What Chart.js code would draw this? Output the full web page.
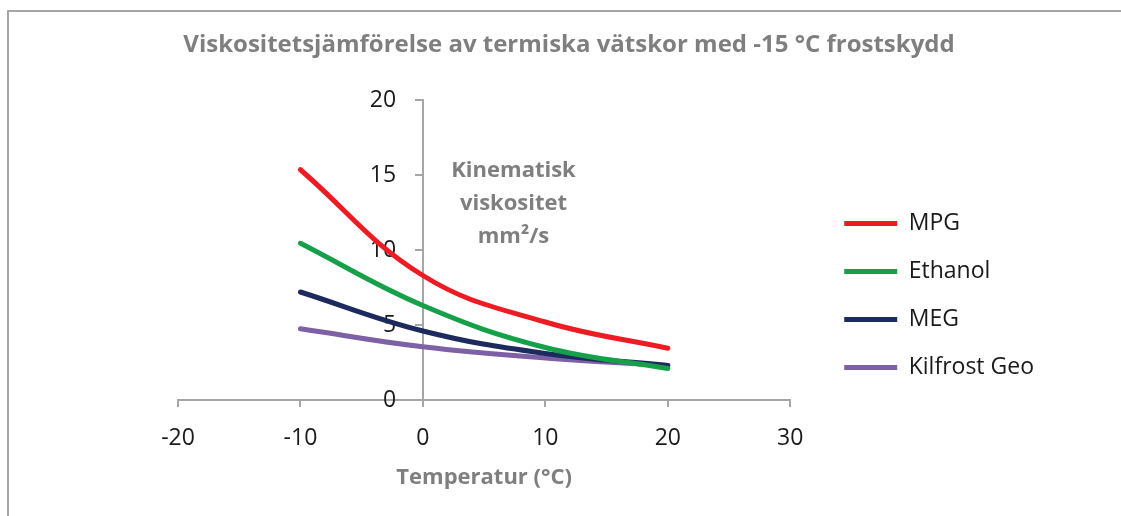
<!DOCTYPE html>
<html>
<head>
<meta charset="utf-8">
<script src="https://cdn.jsdelivr.net/npm/chart.js@4"></script>
<style>
  html, body { margin: 0; padding: 0; background: #fff; }
  #wrap { position: relative; width: 1121px; height: 516px; }
  #frame { position: absolute; left: 7px; top: 10px; width: 1114px; height: 506px;
           border-top: 2px solid #a6a6a6; border-left: 2px solid #a6a6a6; box-sizing: border-box; }
  canvas { position: absolute; left: 0; top: 0; }
</style>
</head>
<body>
<div id="wrap">
  <div id="frame"></div>
  <canvas id="viscChart" width="1121" height="516"></canvas>
</div>
<script>
// temperatur (°C)
const temps = [-10, 0, 10, 20];

// kinematisk viskositet mm2/s
const mpg = [15.35, 8.3, 5.2, 3.45];
const ethanol = [10.45, 6.3, 3.5, 2.1];
const meg = [7.2, 4.6, 3.1, 2.3];
const kilfrost = [4.75, 3.55, 2.8, 2.3];

const seriesNames = ['MPG', 'Ethanol', 'MEG', 'Kilfrost Geo'];
const seriesColors = ['#ed1c24', '#17a04a', '#1d2a5e', '#7d60a5'];
const seriesValues = [mpg, ethanol, meg, kilfrost];

const xTicks = [-20, -10, 0, 10, 20, 30];
const yTicks = [0, 5, 10, 15, 20];

const chartTitle = 'Viskositetsjämförelse av termiska vätskor med -15 °C frostskydd';

const fontName = '"Open Sans", Lato, sans-serif';
const greyText = '#7f7f7f';
const darkText = '#1a1a1a';

//rubriken + texten "Kinematisk viskositet mm²/s" inne i diagrammet
const extraText = {
  id: 'extraText',
  afterDraw(chart) {
    const ctx = chart.ctx;
    const xs = chart.scales.x;
    const ys = chart.scales.y;
    ctx.save();
    ctx.fillStyle = greyText;
    ctx.textAlign = 'center';
    ctx.textBaseline = 'middle';
    // rubriken ligger mitt på hela ramen, inte över diagramytan
    ctx.font = 'bold 24px ' + fontName;
    ctx.fillText(chartTitle, 569, 45);
    ctx.font = 'bold 22px ' + fontName;
    const lines = [['Kinematisk', 15.3], ['viskositet', 13.1], ['mm²/s', 10.9]];
    lines.forEach(([txt, v]) => {
      ctx.fillText(txt, xs.getPixelForValue(7.4), ys.getPixelForValue(v));
    });
    ctx.restore();
  }
};

const ctx = document.getElementById('viscChart');

new Chart(ctx, {
  type: 'line',
  data: {
    datasets: seriesNames.map((name, i) => ({
      label: name,
      data: temps.map((t, j) => ({ x: t, y: seriesValues[i][j] })),
      borderColor: seriesColors[i],
      backgroundColor: seriesColors[i],
      borderWidth: 5,
      borderCapStyle: 'round',
      pointRadius: 0,
      tension: 0.4,
      fill: false
    }))
  },
  options: {
    responsive: false,
    animation: false,
    layout: {
      padding: { left: 178, right: 77, top: 100, bottom: 25 }
    },
    scales: {
      x: {
        type: 'linear',
        min: -20,
        max: 30,
        afterBuildTicks: (s) => { s.ticks = xTicks.map(v => ({ value: v })); },
        grid: { drawOnChartArea: false, tickLength: 7, color: '#a6a6a6', lineWidth: 2 },
        border: { color: '#a6a6a6', width: 2 },
        ticks: { color: darkText, font: { family: fontName, size: 23 }, padding: 18 },
        title: {
          display: true,
          text: 'Temperatur (°C)',
          color: greyText,
          font: { family: fontName, size: 22, weight: 'bold' },
          padding: { top: -6, bottom: 0 }
        }
      },
      y: {
        type: 'linear',
        position: { x: 0 },
        min: 0,
        max: 20,
        afterBuildTicks: (s) => { s.ticks = yTicks.map(v => ({ value: v })); },
        grid: { drawOnChartArea: false, tickLength: 7, color: '#a6a6a6', lineWidth: 2 },
        border: { color: '#a6a6a6', width: 2 },
        // etiketterna hamnar annars direkt mot axeln
        ticks: { color: darkText, font: { family: fontName, size: 23 }, callback: (v) => v + '\u2003\u2009' }
      },
      // tomt avstånd mellan diagrammet och förklaringen
      gap: {
        type: 'linear',
        position: 'right',
        display: true,
        grid: { display: false },
        border: { display: false },
        ticks: { display: false },
        afterFit: (s) => { s.width = 29; }
      }
    },
    plugins: {
      title: { display: false },
      legend: {
        position: 'right',
        align: 'center',
        maxWidth: 320,
        labels: {
          color: darkText,
          font: { family: fontName, size: 23 },
          boxWidth: 53,
          boxHeight: 5,
          padding: 25,
          generateLabels: (chart) => chart.data.datasets.map((ds, i) => ({
            text: ds.label,
            fillStyle: ds.borderColor,
            strokeStyle: ds.borderColor,
            lineWidth: 0,
            fontColor: darkText,
            hidden: false,
            datasetIndex: i
          }))
        }
      },
      tooltip: { enabled: false }
    }
  },
  plugins: [extraText]
});
</script>
</body>
</html>
